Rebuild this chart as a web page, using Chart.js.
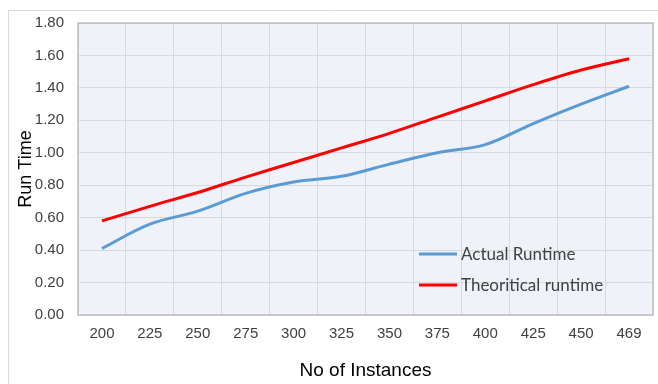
<!DOCTYPE html>
<html>
<head>
<meta charset="utf-8">
<script src="https://cdn.jsdelivr.net/npm/chart.js@4.4.1/dist/chart.umd.min.js"></script>
<style>
  html, body { margin: 0; padding: 0; background: #fff; }
  canvas { display: block; }
</style>
</head>
<body>
<canvas id="runChart" width="658" height="384"></canvas>
<script>
const instances = ["200", "225", "250", "275", "300", "325", "350", "375", "400", "425", "450", "469"];
const actualRuntime = [0.41, 0.56, 0.64, 0.75, 0.82, 0.855, 0.93, 1.00, 1.05, 1.18, 1.30, 1.41];
const theoreticalRuntime = [0.58, 0.67, 0.755, 0.85, 0.94, 1.03, 1.12, 1.22, 1.32, 1.42, 1.51, 1.58];
const yTicks = [0, 0.2, 0.4, 0.6, 0.8, 1.0, 1.2, 1.4, 1.6, 1.8];

const tickFont = { family: "'Liberation Sans', Arial, sans-serif", size: 15 };
const textColor = "#404040";

// plot background, outer frame, plot border and the inside legend
const framePlugin = {
  id: "frame",
  beforeDraw(chart) {
    const { ctx, chartArea: a } = chart;
    ctx.save();
    ctx.fillStyle = "#fff";
    ctx.fillRect(0, 0, chart.width, chart.height);
    ctx.strokeStyle = "#d9d9d9";
    ctx.lineWidth = 1;
    ctx.beginPath();
    ctx.moveTo(8.5, chart.height);
    ctx.lineTo(8.5, 10.5);
    ctx.lineTo(chart.width, 10.5);
    ctx.stroke();
    ctx.fillStyle = "#eff3f9";
    ctx.fillRect(a.left, a.top, a.right - a.left, a.bottom - a.top);
    ctx.restore();
  },
  afterDatasetsDraw(chart) {
    const { ctx, chartArea: a } = chart;
    ctx.save();
    ctx.strokeStyle = "#bfbfbf";
    ctx.lineWidth = 1.5;
    ctx.strokeRect(a.left, a.top, a.right - a.left, a.bottom - a.top);

    ctx.font = "17px Lato, 'Liberation Sans', sans-serif";
    ctx.textBaseline = "middle";
    const rows = [254, 285];
    chart.data.datasets.forEach((ds, i) => {
      const y = rows[i];
      ctx.strokeStyle = ds.borderColor;
      ctx.lineWidth = 3;
      ctx.beginPath();
      ctx.moveTo(419, y);
      ctx.lineTo(457, y);
      ctx.stroke();
      ctx.fillStyle = textColor;
      ctx.fillText(ds.label, 461, y + 1);
    });
    ctx.restore();
  }
};

new Chart(document.getElementById("runChart"), {
  type: "line",
  data: {
    labels: instances,
    datasets: [
      { label: "Actual Runtime", data: actualRuntime, borderColor: "#5b9bd5", borderWidth: 3, tension: 0.35, pointRadius: 0 },
      { label: "Theoritical runtime", data: theoreticalRuntime, borderColor: "#ff0000", borderWidth: 3, tension: 0.35, pointRadius: 0 }
    ]
  },
  options: {
    responsive: false,
    animation: false,
    layout: { padding: { left: 0, top: 21, right: 5, bottom: 0 } },
    plugins: { legend: { display: false }, tooltip: { enabled: false } },
    scales: {
      x: {
        offset: true,
        grid: { offset: true, color: "#d9d9d9", drawTicks: false },
        border: { display: false },
        ticks: { font: tickFont, color: textColor, padding: 10, maxRotation: 0 },
        title: { display: true, text: "No of Instances", font: { family: "'Liberation Sans', Arial, sans-serif", size: 19 }, color: "#000", padding: { top: 0, bottom: 2 } },
        afterFit(scale) { scale.height = 69; }
      },
      y: {
        min: 0,
        max: 1.8,
        afterBuildTicks(scale) { scale.ticks = yTicks.map(v => ({ value: v })); },
        grid: { color: "#d9d9d9", drawTicks: false },
        border: { display: false },
        ticks: { font: tickFont, color: textColor, padding: 14, callback: v => v.toFixed(2) },
        title: { display: true, text: "Run Time", font: { family: "'Liberation Sans', Arial, sans-serif", size: 18 }, color: "#000", padding: { top: 15, bottom: 0 } },
        afterFit(scale) { scale.width = 78; }
      }
    }
  },
  plugins: [framePlugin]
});
</script>
</body>
</html>
